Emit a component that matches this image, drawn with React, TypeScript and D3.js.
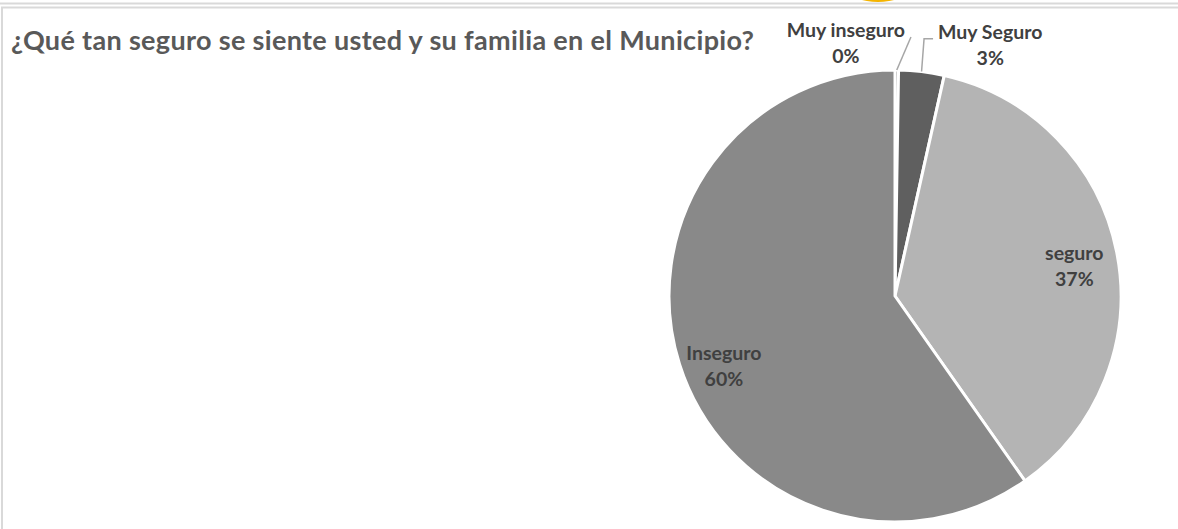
import * as d3 from 'd3';
import React, { useEffect, useRef } from 'react';

// Respuestas por categoría (orden de Excel, en sentido horario desde las 12)
const categories = ['Muy inseguro', 'Muy Seguro', 'seguro', 'Inseguro'];
const counts = [1, 13, 147, 239];
const sliceColors = ['#3f3f3f', '#5f5f5f', '#b4b4b4', '#898989'];
const title = '¿Qué tan seguro se siente usted y su familia en el Municipio?';

// where Excel dropped each label: angle in degrees clockwise from 12 o'clock, distance as share of radius
const labelPlacement = {
    'Muy inseguro': { angle: -11.3, r: 1.11, leader: 'right' },
    'Muy Seguro': { angle: 21.3, r: 1.16, leader: 'left' },
    'seguro': { angle: 82.7, r: 0.8 },
    'Inseguro': { angle: 245.8, r: 0.83 },
};

const App = () => {
    const svgRef = useRef(null);

    useEffect(() => {
        const width = 1178;
        const height = 529;
        const cx = 895;
        const cy = 296;
        const radius = 226;

        const svg = d3.select(svgRef.current);
        svg.selectAll('*').remove();
        svg.attr('width', width).attr('height', height);

        // frame bits of the worksheet around the chart
        svg.append('line')
            .attr('x1', 0).attr('x2', width)
            .attr('y1', 3.5).attr('y2', 3.5)
            .attr('stroke', '#d9d9d9').attr('stroke-width', 2);
        svg.append('path')
            .attr('d', `M2,${height} L2,7.5 L${width},7.5`)
            .attr('fill', 'none')
            .attr('stroke', '#d9d9d9').attr('stroke-width', 2);
        svg.append('ellipse')
            .attr('cx', 878).attr('cy', -10)
            .attr('rx', 29).attr('ry', 12)
            .attr('fill', '#f4b400');

        svg.append('text')
            .attr('x', 11)
            .attr('y', 50)
            .attr('fill', '#595959')
            .style('font-family', 'Lato, sans-serif')
            .style('font-weight', 700)
            .style('font-size', '27px')
            .style('letter-spacing', '0.33px')
            .text(title);

        const data = categories.map((name, i) => ({ name, value: counts[i], color: sliceColors[i] }));
        const total = d3.sum(counts);

        const pie = d3.pie().sort(null).value(d => d.value);
        const arc = d3.arc().innerRadius(0).outerRadius(radius);
        const arcs = pie(data);

        const g = svg.append('g').attr('transform', `translate(${cx},${cy})`);

        g.selectAll('path.slice')
            .data(arcs)
            .enter()
            .append('path')
            .attr('class', 'slice')
            .attr('d', arc)
            .attr('fill', d => d.data.color)
            .attr('stroke', '#ffffff')
            .attr('stroke-width', 3)
            .attr('stroke-linejoin', 'round');

        // labels
        arcs.forEach(d => {
            const p = labelPlacement[d.data.name];
            const a = (p.angle * Math.PI) / 180;
            const lx = Math.sin(a) * radius * p.r;
            const ly = -Math.cos(a) * radius * p.r;
            const pct = d3.format('.0%')(d.data.value / total);
            const t = g.append('text')
                .attr('text-anchor', 'middle')
                .attr('fill', '#404040')
                .style('font-family', 'Lato, sans-serif')
                .style('font-weight', 700)
                .style('font-size', '19.5px');
            const first = t.append('tspan').attr('x', lx).attr('y', ly - 13).text(d.data.name);
            t.append('tspan').attr('x', lx).attr('y', ly + 13).text(pct);

            if (p.leader) {
                // leader line from the slice edge to the label
                const w = first.node().getComputedTextLength();
                const mid = (d.startAngle + d.endAngle) / 2;
                const ex = Math.sin(mid) * radius;
                const ey = -Math.cos(mid) * radius;
                const yEnd = ly - 13;
                const pts = p.leader === 'left'
                    ? [[ex, ey], [ex + 2.5, yEnd], [lx - w / 2 - 5, yEnd]]
                    : [[ex, ey], [lx + w / 2 + 6, yEnd]];
                g.append('path')
                    .attr('d', d3.line()(pts))
                    .attr('fill', 'none')
                    .attr('stroke', '#a6a6a6')
                    .attr('stroke-width', 1.5);
            }
        });
    }, []);

    return (
        <div style={{ position: 'absolute', left: 0, top: 0 }}>
            <svg ref={svgRef} style={{ display: 'block' }}></svg>
        </div>
    );
};

export default App;
